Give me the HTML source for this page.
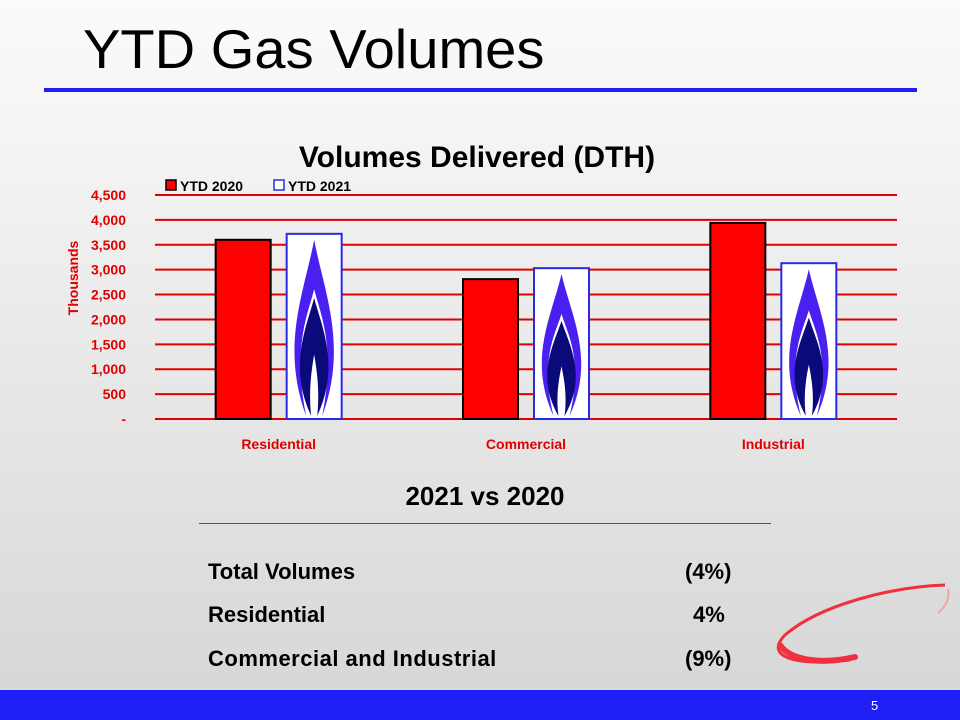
<!DOCTYPE html>
<html><head><meta charset="utf-8"><style>
body{margin:0;width:960px;height:720px;overflow:hidden;font-family:"Liberation Sans",sans-serif}
#slide{position:relative;width:960px;height:720px;background:linear-gradient(#fbfbfb,#d6d6d6)}
.t{position:absolute;white-space:nowrap}
</style></head><body>
<div id="slide">
<div class="t" style="left:83px;top:17px;font-size:55px;color:#000;transform:scaleX(1.02);transform-origin:left">YTD Gas Volumes</div>
<div style="position:absolute;left:44px;top:88px;width:873px;height:4px;background:#1f1fef"></div>
<svg id="chart" width="960" height="470" style="position:absolute;left:0;top:0"></svg>
<div class="t" style="left:0;width:970px;text-align:center;top:481px;font-size:26px;font-weight:bold">2021 vs 2020</div>
<div style="position:absolute;left:199px;top:523px;width:572px;height:1px;background:#555"></div>
<div class="t" style="left:208px;top:559px;font-size:22px;font-weight:bold">Total Volumes</div>
<div class="t" style="left:685px;top:559px;font-size:22px;font-weight:bold">(4%)</div>
<div class="t" style="left:208px;top:602px;font-size:22px;font-weight:bold">Residential</div>
<div class="t" style="left:693px;top:602px;font-size:22px;font-weight:bold">4%</div>
<div class="t" style="left:208px;top:646px;font-size:22px;font-weight:bold;letter-spacing:0.5px">Commercial and Industrial</div>
<div class="t" style="left:685px;top:646px;font-size:22px;font-weight:bold">(9%)</div>
<svg width="200" height="110" style="position:absolute;left:760px;top:575px">
<path d="M185 10 C130 12 60 30 25 60 C5 80 30 92 90 85" stroke="#f0303a" stroke-width="3" fill="none"/>
<path d="M188 14 C190 25 185 32 178 38" stroke="#f6a0a8" stroke-width="2" fill="none"/>
<path d="M20 70 C30 85 60 90 95 82" stroke="#f03040" stroke-width="6" fill="none" stroke-linecap="round"/>
</svg>
<div style="position:absolute;left:0;top:690px;width:960px;height:30px;background:#1f1ff5"></div>
<div class="t" style="left:871px;top:698px;font-size:13px;color:#fff">5</div>
</div>
<script>
const categories=["Residential","Commercial","Industrial"];
const ytd2020=[3600,2810,3940];
const ytd2021=[3720,3030,3130];
const yTicks=[0,500,1000,1500,2000,2500,3000,3500,4000,4500];
const yTickLabels=["-","500","1,000","1,500","2,000","2,500","3,000","3,500","4,000","4,500"];
const NS="http://www.w3.org/2000/svg";
const svg=document.getElementById('chart');
const x0=155,x1=897,y0=419,yTop=195,yMax=4500;
const y=v=>y0-(v/yMax)*(y0-yTop);
const bandW=(x1-x0)/categories.length;
const xc=i=>x0+bandW*(i+0.5);
function mk(tag,at){const e=document.createElementNS(NS,tag);for(const k in at)e.setAttribute(k,at[k]);svg.appendChild(e);return e;}
let t=mk('text',{x:477,y:167,'text-anchor':'middle','font-size':30,'font-weight':'bold','font-family':'Liberation Sans'});t.textContent='Volumes Delivered (DTH)';


yTicks.forEach((v,i)=>{
 const l=mk('line',{x1:x0,x2:x1,y1:y(v),y2:y(v),stroke:'#e00000','stroke-width':2});
 
 
 const tx=mk('text',{x:126,y:y(v)+5,'text-anchor':'end','font-size':14,'font-weight':'bold',fill:'#e00000','font-family':'Liberation Sans'});
 tx.textContent=yTickLabels[i];
 
 
});
let yt=mk('text',{x:0,y:0,transform:'translate(78,278) rotate(-90)','text-anchor':'middle','font-size':14,'font-weight':'bold',fill:'#e00000','font-family':'Liberation Sans'});yt.textContent='Thousands';


const bw=55;
categories.forEach((c,i)=>{
 const cx=xc(i);
 const r=mk('rect',{x:cx-63,y:y(ytd2020[i]),width:bw,height:y0-y(ytd2020[i]),fill:'#ff0000',stroke:'#000','stroke-width':2});
 
 
 const bx=cx+8,by=y(ytd2021[i]),bh=y0-by;
 const b=mk('rect',{x:bx,y:by,width:bw,height:bh,fill:'#fff',stroke:'#2a2ae0','stroke-width':2});
 
 
 const m=bx+bw/2,top=by+6,bot=y0-3,h=bot-top;
 const f1=mk('path',{d:`M${m} ${top} C${m+10} ${top+h*0.3} ${m+34} ${top+h*0.6} ${m+8} ${bot} C${m+22} ${top+h*0.6} ${m+6} ${top+h*0.42} ${m} ${top+h*0.28} C${m-6} ${top+h*0.42} ${m-22} ${top+h*0.6} ${m-8} ${bot} C${m-34} ${top+h*0.6} ${m-10} ${top+h*0.3} ${m} ${top}Z`,fill:'#4a20f0'});
 
 
 const f2=mk('path',{d:`M${m} ${top+h*0.33} C${m+8} ${top+h*0.5} ${m+26} ${top+h*0.72} ${m+3} ${bot} C${m+6} ${top+h*0.85} ${m+2} ${top+h*0.72} ${m} ${top+h*0.65} C${m-2} ${top+h*0.72} ${m-6} ${top+h*0.85} ${m-3} ${bot} C${m-26} ${top+h*0.72} ${m-8} ${top+h*0.5} ${m} ${top+h*0.33}Z`,fill:'#0a0a7a'});
 
 
 const lb=mk('text',{x:cx,y:449,'text-anchor':'middle','font-size':14,'font-weight':'bold',fill:'#e00000','font-family':'Liberation Sans'});
 lb.textContent=c;
 
 
});
const l1=mk('rect',{x:166,y:180,width:10,height:10,fill:'#ff0000',stroke:'#000','stroke-width':1.5});


let lt=mk('text',{x:180,y:191,'font-size':14,'font-weight':'bold','font-family':'Liberation Sans'});lt.textContent='YTD 2020';


const l2=mk('rect',{x:274,y:180,width:10,height:10,fill:'#fff',stroke:'#2a2ae0','stroke-width':1.5});


let lt2=mk('text',{x:288,y:191,'font-size':14,'font-weight':'bold','font-family':'Liberation Sans'});lt2.textContent='YTD 2021';


</script>
</body></html>
